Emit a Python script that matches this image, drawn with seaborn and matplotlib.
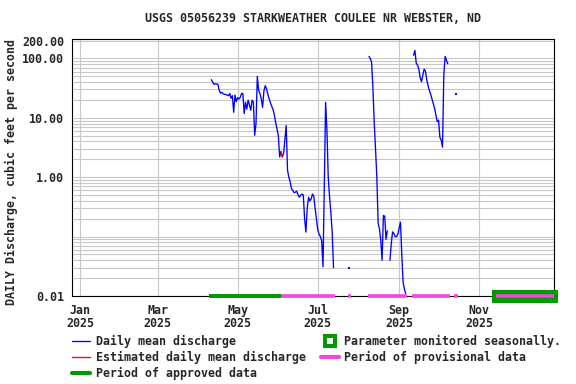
import numpy as np
import pandas as pd
import matplotlib
matplotlib.use("Agg")
import matplotlib.pyplot as plt
import matplotlib.dates as mdates
import matplotlib.transforms as mtransforms
from matplotlib.lines import Line2D
from matplotlib.patches import Rectangle
from matplotlib.ticker import FixedLocator, FixedFormatter, NullFormatter, NullLocator
import seaborn as sns

# ---------------- data ----------------
TITLE = "USGS 05056239 STARKWEATHER COULEE NR WEBSTER, ND"
YLABEL = "DAILY Discharge, cubic feet per second"

# daily mean discharge, consecutive days from each start date (nan = no value)
seg1_start = "2025-04-11"
seg1_q = [43.8, 40, 36.6, 37.5, 37, 36.6, 29, 26, 26.8, 25.5,
          24.8, 24.8, 24, 23.6, 25.6, 21.3, 23.6, 12.4, 24.2, 18.7,
          21.9, 20.7, 22, 25.6, 25.6, 11.8, 18.3, 14, 19.8, 16.4,
          13.4, 19.8, 18.3, 5.08, 8.0, 49.8, 29, 25.6, 21, 14.9,
          28, 34.7, 31, 24.8, 21, 17.8, 15.6, 13.7, 11.1, 8.2,
          6.5, 5.0, 2.19, 2.71, 2.2, 2.5, 4.3, 7.4, 1.31, 1.0,
          0.84, 0.64, 0.6, 0.55, 0.56, 0.58, 0.5, 0.46, 0.5, 0.52,
          0.5, 0.2, 0.119, 0.3, 0.46, 0.4, 0.43, 0.52, 0.48, 0.3,
          0.2, 0.13, 0.11, 0.1, 0.085, 0.031, 0.69, 18.2, 6.2, 1.0,
          0.47, 0.25, 0.12, 0.03]
seg2_start = "2025-07-25"
seg2_q = [0.03]
seg3_start = "2025-08-09"
seg3_q = [108, 100, 86, 33, 8.5, 3.0, 1.0, 0.167, 0.135, 0.087,
          0.04, 0.227, 0.22, 0.09, 0.125, np.nan, 0.04, 0.077, 0.12, 0.113,
          0.10, 0.10, 0.11, 0.14, 0.175, 0.05, 0.017, 0.013, 0.011]
seg4_start = "2025-09-12"
seg4_q = [113, 136, 83, 77, 66, 47, 40.5, 52, 66, 61,
          44, 34.8, 29, 24.8, 20.7, 17.3, 14.4, 11.1, 8.6, 9.1,
          4.7, 4.2, 3.2, 52.5, 108, 92.6, 81.5]
seg5_start = "2025-10-14"
seg5_q = [24.8]

# estimated daily mean discharge
est_start = "2025-06-03"
est_q = [2.71, 2.2, 2.5]

approved_periods = [("2025-04-09", "2025-06-03")]
provisional_periods = [("2025-06-03", "2025-07-14"), ("2025-07-24", "2025-07-26"),
                       ("2025-08-08", "2025-09-07"), ("2025-09-11", "2025-10-10"),
                       ("2025-10-13", "2025-10-16"), ("2025-11-14", "2025-12-28")]
seasonal_periods = [("2025-11-11", "2025-12-31")]

xlim = ("2024-12-25 21:30", "2025-12-27 21:30")
ylim = (0.01, 212)
ytick_vals = [0.01, 1, 10, 100, 200]
ytick_labels = ["0.01", "1.00", "10.00", "100.00", "200.00"]
xtick_dates = ["2025-01-01", "2025-03-01", "2025-05-01", "2025-07-01", "2025-09-01", "2025-11-01"]
xtick_labels = ["Jan\n2025", "Mar\n2025", "May\n2025", "Jul\n2025", "Sep\n2025", "Nov\n2025"]

legend_labels = ["Daily mean discharge", "Estimated daily mean discharge",
                 "Period of approved data", "Parameter monitored seasonally.",
                 "Period of provisional data"]

# ---------------- style ----------------
BLUE = "#0000FF"
RED = "#FF0000"
GREEN = "#009900"
PINK = "#F048DC"
GRID = "#C8C8C8"
FS = 8.4

sns.set_theme(style="white", rc={"axes.edgecolor": "black", "axes.linewidth": 0.8})
plt.rcParams["font.family"] = ["DejaVu Sans Mono"]
plt.rcParams["font.weight"] = "bold"


def make_frame(start, values, unit0):
    dates = pd.date_range(start, periods=len(values), freq="D")
    q = np.array(values, dtype=float)
    unit = unit0 + np.cumsum(np.isnan(q))
    return pd.DataFrame({"date": dates, "q": q, "unit": unit})


segs = [(seg1_start, seg1_q), (seg2_start, seg2_q), (seg3_start, seg3_q),
        (seg4_start, seg4_q), (seg5_start, seg5_q)]
df = pd.concat([make_frame(s, v, 100 * i) for i, (s, v) in enumerate(segs)]).dropna()
counts = df.groupby("unit")["q"].transform("size")
df_lines = df[counts > 1]
df_single = df[counts == 1]
df_est = make_frame(est_start, est_q, 0)

fig = plt.figure(figsize=(5.76, 3.84), dpi=100)
ax = fig.add_axes([72 / 576, 1 - 296 / 384, (554 - 72) / 576, (296 - 39) / 384])

sns.lineplot(data=df_lines, x="date", y="q", units="unit", estimator=None,
             color=BLUE, lw=0.95, ax=ax, legend=False, zorder=3)
sns.lineplot(data=df_est, x="date", y="q", estimator=None,
             color=RED, lw=0.95, ax=ax, legend=False, zorder=3.1)
sns.scatterplot(data=df_single, x="date", y="q", color=BLUE, marker="s",
                s=3, linewidth=0, ax=ax, legend=False, zorder=3)

ax.set_yscale("log")
ax.set_ylim(*ylim)
ax.set_xlim(pd.Timestamp(xlim[0]), pd.Timestamp(xlim[1]))

ax.yaxis.set_major_locator(FixedLocator(ytick_vals))
ax.yaxis.set_major_formatter(FixedFormatter(ytick_labels))
minor_vals = [m * 10.0 ** k for k in range(-2, 3) for m in range(1, 10) if m * 10.0 ** k <= ylim[1]]
ax.yaxis.set_minor_locator(FixedLocator(minor_vals))
ax.yaxis.set_minor_formatter(NullFormatter())

xt = [mdates.date2num(pd.Timestamp(d)) for d in xtick_dates]
ax.xaxis.set_major_locator(FixedLocator(xt))
ax.xaxis.set_major_formatter(FixedFormatter(xtick_labels))
ax.xaxis.set_minor_locator(NullLocator())

ax.grid(which="both", axis="y", color=GRID, lw=0.8)
ax.grid(which="major", axis="x", color=GRID, lw=0.8)
ax.set_axisbelow(True)
ax.tick_params(axis="both", which="both", length=0, labelsize=FS)
ax.tick_params(axis="x", pad=6)
ax.tick_params(axis="y", pad=5.8)
for lab in ax.get_xticklabels():
    lab.set_linespacing(1.0)
for sp in ax.spines.values():
    sp.set_color("black")
    sp.set_linewidth(0.8)
ax.set_xlabel("")
ax.set_ylabel("")

# period bars along the bottom axis
trans = mtransforms.blended_transform_factory(ax.transData, ax.transAxes)
for s, e in seasonal_periods:
    x0 = mdates.date2num(pd.Timestamp(s))
    x1 = mdates.date2num(pd.Timestamp(e))
    ax.add_patch(Rectangle((x0, -7 / 257), x1 - x0, 13 / 257, transform=trans,
                           facecolor=GREEN, edgecolor="none", clip_on=False, zorder=4))
for s, e in approved_periods:
    ax.hlines(ylim[0], pd.Timestamp(s), pd.Timestamp(e), colors=GREEN, lw=2.9,
              clip_on=False, zorder=5)
for s, e in provisional_periods:
    ax.hlines(ylim[0], pd.Timestamp(s), pd.Timestamp(e), colors=PINK, lw=2.6,
              clip_on=False, zorder=5)

fig.text(313 / 576, 1 - 19 / 384, TITLE, ha="center", va="center", fontsize=FS,
         fontweight="bold")
fig.text(11.5 / 576, 1 - 172 / 384, YLABEL, ha="center", va="center", rotation=90,
         fontsize=FS, fontweight="bold")

handles = [Line2D([], [], color=BLUE, lw=0.95),
           Line2D([], [], color=RED, lw=0.95),
           Line2D([], [], color=GREEN, lw=3),
           Line2D([], [], ls="none", marker="s", ms=6.5, mfc="white", mec=GREEN, mew=2.9),
           Line2D([], [], color=PINK, lw=3)]
fig.legend(handles, legend_labels, ncol=2, loc="upper left",
           bbox_to_anchor=(72 / 576, 1 - 335 / 384), frameon=False, fontsize=FS,
           handlelength=1.55, handletextpad=0.5, columnspacing=1.25,
           labelspacing=0.25, borderpad=0, borderaxespad=0)

fig.savefig("out.png", dpi=100)
